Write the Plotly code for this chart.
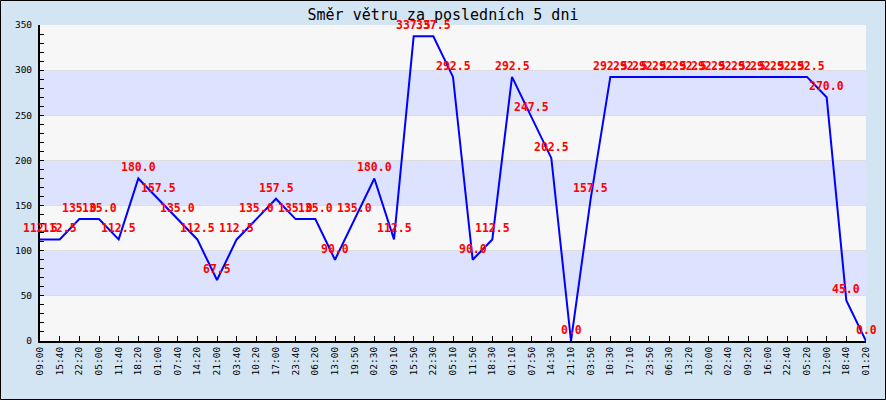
import plotly.graph_objects as go

times = ["09:00", "15:40", "22:20", "05:00", "11:40", "18:20", "01:00", "07:40", "14:20", "21:00",
         "03:40", "10:20", "17:00", "23:40", "06:20", "13:00", "19:50", "02:30", "09:10", "15:50",
         "22:30", "05:10", "11:50", "18:30", "01:10", "07:50", "14:30", "21:10", "03:50", "10:30",
         "17:10", "23:50", "06:30", "13:20", "20:00", "02:40", "09:20", "16:00", "22:40", "05:20",
         "12:00", "18:40", "01:20"]
direction = [112.5, 112.5, 135.0, 135.0, 112.5, 180.0, 157.5, 135.0, 112.5, 67.5,
             112.5, 135.0, 157.5, 135.0, 135.0, 90.0, 135.0, 180.0, 112.5, 337.5,
             337.5, 292.5, 90.0, 112.5, 292.5, 247.5, 202.5, 0.0, 157.5, 292.5,
             292.5, 292.5, 292.5, 292.5, 292.5, 292.5, 292.5, 292.5, 292.5, 292.5,
             270.0, 45.0, 0.0]
title = "Směr větru za posledních 5 dni"

W, H = 886, 400
ML, MR, MT, MB = 40, 20, 25, 59
PW, PH = W - ML - MR, H - MT - MB

xs = list(range(len(times)))

fig = go.Figure()
fig.add_trace(go.Scatter(x=xs, y=direction, mode="lines",
                         line=dict(color="#0000FF", width=2), hoverinfo="skip"))

shapes = []
band_colors = ["#F7F7F7", "#DDE3FF"]
for k, lo in enumerate(range(0, 350, 50)):
    shapes.append(dict(type="rect", xref="paper", yref="y", x0=0, x1=1, y0=lo, y1=lo + 50,
                       fillcolor=band_colors[k % 2], line=dict(width=0), layer="below"))
# outer border
shapes.append(dict(type="rect", xref="paper", yref="paper",
                   x0=(0.5 - ML) / PW, x1=(W - 0.5 - ML) / PW,
                   y0=(MT + PH - (H - 0.5)) / PH, y1=(MT + PH - 0.5) / PH,
                   line=dict(color="black", width=1), fillcolor="rgba(0,0,0,0)"))

annotations = []
for x, v in zip(xs, direction):
    annotations.append(dict(x=x, y=v, xref="x", yref="y", text=f"{v:.1f}", showarrow=False,
                            yshift=11, xanchor="center", yanchor="middle",
                            font=dict(family="DejaVu Sans Mono", size=11.5, color="#FF0000",
                                      weight="bold")))

fig.update_layout(
    width=W, height=H,
    margin=dict(l=ML, r=MR, t=MT, b=MB, pad=0),
    paper_bgcolor="#D3E4F2",
    plot_bgcolor="#F7F7F7",
    showlegend=False,
    title=dict(text=title, x=0.5, xanchor="center", y=1 - 15 / H, yanchor="middle",
               font=dict(family="DejaVu Sans Mono", size=15, color="black")),
    shapes=shapes,
    annotations=annotations,
    xaxis=dict(range=[0, len(times) - 1], tickmode="array", tickvals=xs, ticktext=times,
               tickangle=-90, ticks="inside", ticklen=5, tickcolor="black", tickwidth=1,
               showline=True, linecolor="black", linewidth=2, showgrid=False, zeroline=False,
               tickfont=dict(family="DejaVu Sans Mono", size=9.5, color="black")),
    yaxis=dict(range=[0, 350], tickmode="array", tickvals=list(range(0, 351, 50)),
               ticks="inside", ticklen=4, tickcolor="black", tickwidth=1,
               showline=True, linecolor="black", linewidth=2,
               showgrid=True, gridcolor="#DDDDDD", gridwidth=1, zeroline=False,
               ticklabelstandoff=4,
               minor=dict(dtick=10, tick0=0, ticks="inside", ticklen=4, tickcolor="black",
                          tickwidth=1, showgrid=False),
               tickfont=dict(family="DejaVu Sans Mono", size=9.5, color="black")),
)

fig.write_html("out.html")
